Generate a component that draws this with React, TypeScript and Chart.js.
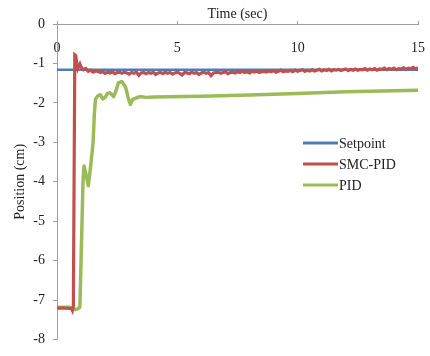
import React, { useEffect, useRef } from 'react';
import { Chart, registerables } from 'chart.js';

Chart.register(...registerables);

// ---- data ----
const setpointTimes = [0, 15];
const setpointValues = [-1.16, -1.16];

const smcTimes = [
  0, 0.3, 0.6, 0.64, 0.68, 0.74, 0.78, 0.82, 0.86, 0.9, 0.95, 1.0, 1.1, 1.2, 1.3, 1.4, 1.5, 1.6,
  1.7, 1.8, 1.9, 2.0, 2.1, 2.2, 2.3, 2.4, 2.5, 2.6,
  2.7, 2.8, 2.9, 3.0, 3.1, 3.2, 3.3, 3.4, 3.5, 3.6,
  3.7, 3.8, 3.9, 4.0, 4.1, 4.2, 4.3, 4.4, 4.5, 4.6,
  4.7, 4.8, 4.9, 5.0, 5.1, 5.2, 5.3, 5.4, 5.5, 5.6,
  5.7, 5.8, 5.9, 6.0, 6.1, 6.2, 6.3, 6.4, 6.5, 6.6,
  6.7, 6.8, 6.9, 7.0, 7.1, 7.2, 7.3, 7.4, 7.5, 7.6,
  7.7, 7.8, 7.9, 8.0, 8.1, 8.2, 8.3, 8.4, 8.5, 8.6,
  8.7, 8.8, 8.9, 9.0, 9.1, 9.2, 9.3, 9.4, 9.5, 9.6,
  9.7, 9.8, 9.9, 10.0, 10.1, 10.2, 10.3, 10.4, 10.5, 10.6,
  10.7, 10.8, 10.9, 11.0, 11.1, 11.2, 11.3, 11.4, 11.5, 11.6,
  11.7, 11.8, 11.9, 12.0, 12.1, 12.2, 12.3, 12.4, 12.5, 12.6,
  12.7, 12.8, 12.9, 13.0, 13.1, 13.2, 13.3, 13.4, 13.5, 13.6,
  13.7, 13.8, 13.9, 14.0, 14.1, 14.2, 14.3, 14.4, 14.5, 14.6,
  14.7, 14.8, 14.9, 15.0,
];
const smcValues = [
  -7.2, -7.2, -7.21, -7.26, -7.15, -0.78, -0.8, -1.0, -1.12, -1.06, -1.01, -1.09, -1.16, -1.13, -1.2, -1.17, -1.22, -1.19,
  -1.2, -1.23, -1.21, -1.25, -1.22, -1.24, -1.21, -1.26, -1.23, -1.22,
  -1.25, -1.22, -1.24, -1.27, -1.23, -1.25, -1.22, -1.3, -1.24, -1.23,
  -1.26, -1.23, -1.25, -1.22, -1.28, -1.24, -1.23, -1.26, -1.22, -1.25,
  -1.23, -1.27, -1.24, -1.22, -1.25, -1.29, -1.23, -1.24, -1.26, -1.22,
  -1.25, -1.23, -1.28, -1.24, -1.22, -1.25, -1.23, -1.31, -1.24, -1.23,
  -1.22, -1.25, -1.23, -1.21, -1.26, -1.23, -1.22, -1.24, -1.21, -1.23,
  -1.2, -1.23, -1.21, -1.24, -1.2, -1.22, -1.19, -1.23, -1.21, -1.2,
  -1.22, -1.19, -1.21, -1.18, -1.22, -1.2, -1.17, -1.21, -1.19, -1.2,
  -1.18, -1.21, -1.17, -1.2, -1.18, -1.16, -1.2, -1.17, -1.19, -1.16,
  -1.19, -1.17, -1.15, -1.19, -1.16, -1.18, -1.15, -1.19, -1.16, -1.17,
  -1.15, -1.18, -1.16, -1.14, -1.18, -1.15, -1.17, -1.14, -1.17, -1.15,
  -1.16, -1.13, -1.17, -1.14, -1.16, -1.13, -1.17, -1.14, -1.15, -1.12,
  -1.16, -1.13, -1.15, -1.12, -1.16, -1.13, -1.14, -1.11, -1.15, -1.12,
  -1.13, -1.1, -1.14, -1.11,
];

const pidTimes = [
  0, 0.5, 0.75, 0.85, 0.95, 1.0, 1.08, 1.12, 1.2, 1.3, 1.4, 1.5, 1.55, 1.6,
  1.7, 1.8, 1.9, 2.0, 2.1, 2.2, 2.35, 2.45, 2.55, 2.7, 2.85, 2.95, 3.05, 3.15,
  3.3, 3.45, 3.7, 4.0, 6.0, 8.0, 10.0, 12.0, 15.0,
];
const pidValues = [
  -7.18, -7.18, -7.24, -7.22, -7.18, -6.0, -4.0, -3.6, -3.8, -4.1, -3.6, -3.0, -2.3, -1.9,
  -1.82, -1.79, -1.9, -1.86, -1.76, -1.74, -1.84, -1.7, -1.49, -1.46, -1.6, -1.85, -2.04, -1.91,
  -1.87, -1.84, -1.86, -1.85, -1.83, -1.8, -1.76, -1.72, -1.68,
];

const xTicksMin = 0;
const xTicksMax = 15;
const xTickStep = 5;
const yTicksMin = -8;
const yTicksMax = 0;
const yTickStep = 1;

const seriesLabels = ['Setpoint', 'SMC-PID', 'PID'];

const FONT = '"Liberation Serif", "Times New Roman", serif';

const toPoints = (t: number[], v: number[]) => t.map((x, i) => ({ x, y: v[i] }));

const insideLegend = {
  id: 'insideLegend',
  afterDraw(chart: any) {
    const ctx = chart.ctx;
    ctx.save();
    ctx.font = `14px ${FONT}`;
    ctx.textBaseline = 'middle';
    ctx.textAlign = 'left';
    const rowY = [143, 164, 185];
    chart.data.datasets.forEach((ds: any, i: number) => {
      const y = rowY[i];
      ctx.strokeStyle = ds.borderColor;
      ctx.lineWidth = 3;
      ctx.lineCap = 'butt';
      ctx.beginPath();
      ctx.moveTo(303, y);
      ctx.lineTo(338, y);
      ctx.stroke();
      ctx.fillStyle = '#222';
      ctx.fillText(ds.label, 339, y + 1);
    });
    ctx.restore();
  },
};

export default function App() {
  const canvasRef = useRef<HTMLCanvasElement | null>(null);

  useEffect(() => {
    document.body.style.margin = '0';
    const canvas = canvasRef.current;
    if (!canvas) return;
    const chart = new Chart(canvas, {
      type: 'line',
      data: {
        datasets: [
          {
            label: seriesLabels[0],
            data: toPoints(setpointTimes, setpointValues),
            borderColor: '#4A7EBB',
            borderWidth: 2.5,
            pointRadius: 0,
            tension: 0,
            order: 1,
          },
          {
            label: seriesLabels[1],
            data: toPoints(smcTimes, smcValues),
            borderColor: '#C0504D',
            borderWidth: 3.2,
            pointRadius: 0,
            tension: 0,
            order: 0,
          },
          {
            label: seriesLabels[2],
            data: toPoints(pidTimes, pidValues),
            borderColor: '#9BBB59',
            borderWidth: 3.5,
            pointRadius: 0,
            tension: 0,
            borderJoinStyle: 'round',
            order: 2,
          },
        ],
      },
      options: {
        responsive: false,
        animation: false,
        layout: { padding: { left: 0, right: 12, top: 0, bottom: 14 } },
        plugins: {
          legend: { display: false },
          tooltip: { enabled: false },
        },
        scales: {
          x: {
            type: 'linear',
            position: 'top',
            min: xTicksMin,
            max: xTicksMax,
            ticks: {
              stepSize: xTickStep,
              mirror: true,
              padding: 16,
              color: '#222',
              font: { family: FONT, size: 14 },
              maxRotation: 0,
            },
            grid: { display: true, drawOnChartArea: false, tickLength: 3, color: '#A0A0A0' },
            border: { display: true, color: '#A0A0A0', width: 1 },
            title: {
              display: true,
              text: 'Time (sec)',
              color: '#222',
              font: { family: FONT, size: 14 },
              padding: { top: 6, bottom: 0 },
            },
            afterFit: (s: any) => {
              s.height = 24;
              s.paddingLeft = 0;
              s.paddingRight = 0;
            },
          },
          y: {
            type: 'linear',
            position: 'left',
            min: yTicksMin,
            max: yTicksMax,
            ticks: {
              stepSize: yTickStep,
              padding: 8,
              color: '#222',
              font: { family: FONT, size: 14 },
            },
            grid: { display: true, drawOnChartArea: false, tickLength: 4, color: '#A0A0A0' },
            border: { display: true, color: '#A0A0A0', width: 1 },
            title: {
              display: true,
              text: 'Position (cm)',
              color: '#222',
              font: { family: FONT, size: 14 },
              padding: { top: 12, bottom: 0 },
            },
            afterFit: (s: any) => {
              s.width = 57;
            },
          },
        },
      },
      plugins: [insideLegend],
    } as any);
    return () => chart.destroy();
  }, []);

  return (
    <div style={{ width: 430, height: 356, background: '#fff' }}>
      <canvas ref={canvasRef} width={430} height={356} />
    </div>
  );
}
